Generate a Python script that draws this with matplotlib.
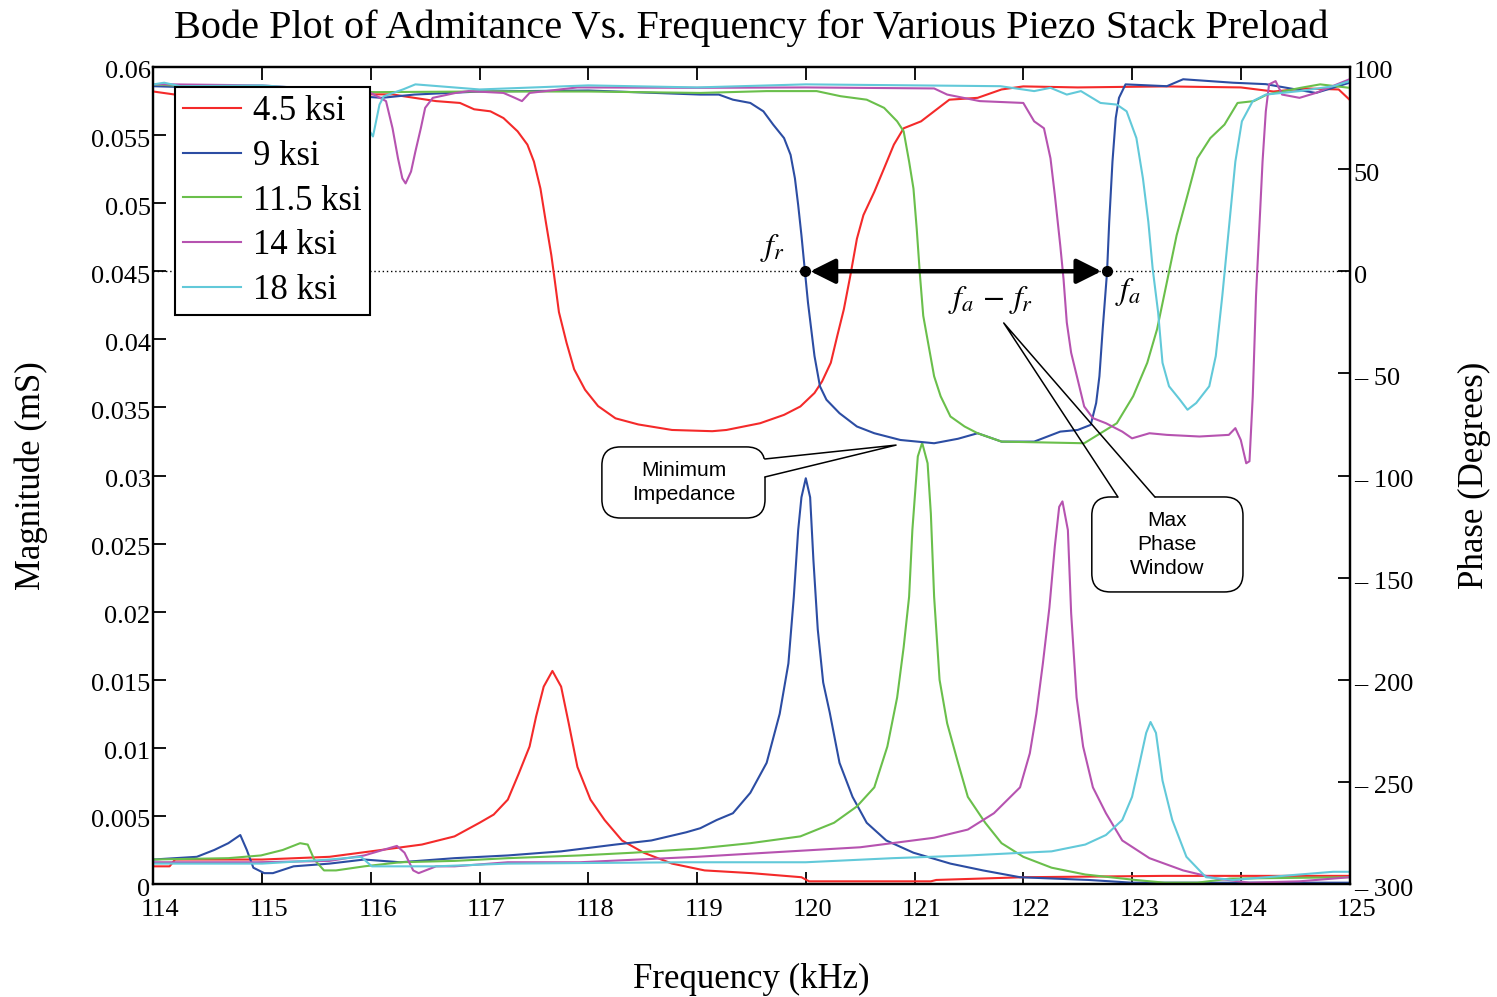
import numpy as np
import matplotlib
matplotlib.use('Agg')
import matplotlib.pyplot as plt
from matplotlib.patches import FancyBboxPatch, Rectangle
from matplotlib.transforms import ScaledTranslation

plt.rcParams['font.family'] = 'Liberation Serif'
plt.rcParams['mathtext.fontset'] = 'stix'

labels = ['4.5 ksi', '9 ksi', '11.5 ksi', '14 ksi', '18 ksi']
colors = ['#f42a2a', '#2c4da3', '#6abf4b', '#b653b0', '#62c9d9']

# ---- admittance magnitude (left axis) ----
mag_f_45 = [114.0, 114.15, 114.2, 115.0, 115.62, 116.0, 116.47, 116.77, 117.0, 117.13, 117.26,
            117.36, 117.46, 117.52, 117.59, 117.67, 117.75, 117.82, 117.9, 118.02, 118.15, 118.31,
            118.51, 118.77, 119.07, 119.5, 119.96, 120.03, 121.15, 121.2, 122.0, 123.3, 124.0, 125.0]
mag_45 = [0.0013, 0.0013, 0.0018, 0.0018, 0.0020, 0.0024, 0.0029, 0.0035, 0.0045, 0.0051, 0.0062,
          0.0081, 0.0101, 0.0123, 0.0145, 0.01565, 0.0145, 0.0118, 0.0086, 0.0062, 0.0047, 0.0032,
          0.0023, 0.0015, 0.0010, 0.0008, 0.0005, 0.0002, 0.0002, 0.0003, 0.0005, 0.0006, 0.0006, 0.0006]

mag_f_9 = [114.0, 114.4, 114.56, 114.69, 114.8, 114.86, 114.92, 115.02, 115.1, 115.29, 115.62,
           115.94, 116.27, 116.77, 117.26, 117.75, 118.25, 118.58, 118.9, 119.03, 119.18, 119.33,
           119.49, 119.64, 119.76, 119.84, 119.89, 119.93, 119.96, 120.0, 120.04, 120.07, 120.11,
           120.16, 120.22, 120.31, 120.43, 120.56, 120.74, 120.99, 121.33, 121.63, 121.97, 122.6,
           123.0, 125.0]
mag_9 = [0.0018, 0.0020, 0.0025, 0.0030, 0.0036, 0.0025, 0.0012, 0.0008, 0.0008, 0.0013, 0.0015,
         0.0018, 0.0016, 0.0019, 0.0021, 0.0024, 0.0029, 0.0032, 0.0038, 0.0041, 0.0047, 0.0052,
         0.0067, 0.0089, 0.0125, 0.0162, 0.0211, 0.0260, 0.0284, 0.0298, 0.0284, 0.0238, 0.0187,
         0.0148, 0.0126, 0.0089, 0.0064, 0.0045, 0.0032, 0.0023, 0.0015, 0.0010, 0.0005, 0.0003,
         0.0001, 0.0001]

mag_f_115 = [114.0, 114.69, 114.99, 115.19, 115.35, 115.42, 115.48, 115.57, 115.68, 115.94, 116.27,
             116.77, 117.26, 117.92, 118.41, 119.0, 119.49, 119.95, 120.26, 120.47, 120.63, 120.75,
             120.84, 120.9, 120.95, 120.98, 121.03, 121.07, 121.12, 121.15, 121.18, 121.23, 121.3,
             121.4, 121.49, 121.65, 121.8, 122.0, 122.26, 122.57, 123.03, 123.3, 123.6, 123.9, 125.0]
mag_115 = [0.0018, 0.0019, 0.0021, 0.0025, 0.0030, 0.0029, 0.0018, 0.0010, 0.0010, 0.0013, 0.0016,
           0.0017, 0.0019, 0.0021, 0.0023, 0.0026, 0.0030, 0.0035, 0.0045, 0.0057, 0.0071, 0.0101,
           0.0137, 0.0174, 0.0211, 0.0260, 0.0314, 0.0324, 0.0309, 0.0272, 0.0211, 0.0150, 0.0118,
           0.0089, 0.0064, 0.0045, 0.0030, 0.0020, 0.0012, 0.0007, 0.0003, 0.0001, 0.0001, 0.0004, 0.0005]

mag_f_14 = [114.0, 114.96, 115.62, 115.94, 116.11, 116.24, 116.31, 116.39, 116.44, 116.6, 116.77,
            117.26, 117.92, 119.0, 119.64, 120.5, 121.18, 121.49, 121.73, 121.97, 122.06, 122.12,
            122.18, 122.24, 122.29, 122.33, 122.36, 122.41, 122.44, 122.49, 122.55, 122.64, 122.76,
            122.91, 123.16, 123.47, 123.78, 124.08, 124.54, 125.0]
mag_14 = [0.0016, 0.0016, 0.0017, 0.0021, 0.0025, 0.0028, 0.0023, 0.0010, 0.0008, 0.0013, 0.0013,
          0.0016, 0.0016, 0.0020, 0.0023, 0.0027, 0.0034, 0.0040, 0.0052, 0.0071, 0.0096, 0.0125,
          0.0162, 0.0203, 0.0248, 0.0277, 0.0281, 0.0260, 0.0199, 0.0137, 0.0101, 0.0071, 0.0052,
          0.0032, 0.0019, 0.0010, 0.0004, 0.0001, 0.0002, 0.0005]

mag_f_18 = [114.0, 115.0, 115.62, 115.91, 116.01, 116.6, 117.26, 118.9, 120.0, 120.8, 121.5, 122.0,
            122.26, 122.57, 122.76, 122.91, 123.0, 123.07, 123.13, 123.17, 123.22, 123.28, 123.37,
            123.5, 123.68, 123.93, 124.54, 124.85, 125.0]
mag_18 = [0.0015, 0.0015, 0.0018, 0.0020, 0.0013, 0.0013, 0.0015, 0.0016, 0.0016, 0.0019, 0.0021, 0.0023,
          0.0024, 0.0029, 0.0036, 0.0047, 0.0064, 0.0089, 0.0111, 0.0119, 0.0111, 0.0076, 0.0047,
          0.0020, 0.0005, 0.0003, 0.0007, 0.0009, 0.0009]

# ---- phase in degrees (right axis) ----
ph_f_45 = [114.0, 114.2, 115.0, 116.0, 116.2, 116.3, 116.6, 116.82, 116.95, 117.1, 117.22, 117.35,
           117.44, 117.5, 117.56, 117.61, 117.66, 117.69, 117.73, 117.8, 117.87, 117.97, 118.09,
           118.25, 118.46, 118.77, 119.14, 119.27, 119.58, 119.8, 119.95, 120.08, 120.15, 120.23,
           120.29, 120.35, 120.41, 120.47, 120.53, 120.63, 120.72, 120.81, 120.9, 121.06, 121.18,
           121.32, 121.58, 121.8, 122.0, 122.5, 123.3, 124.0, 124.3, 124.6, 124.9, 125.0]
ph_45 = [88, 86.5, 86.5, 86.6, 86.6, 85.7, 83.3, 82.4, 79.3, 78.3, 75, 68.5,
         62, 53.7, 40.5, 24, 7.9, -3.8, -20, -35, -48, -58, -66,
         -72, -75, -77.7, -78.3, -77.7, -74.4, -70.3, -66.2, -59.6, -53.9, -44.8,
         -31.5, -18.6, -2, 15.9, 27.5, 38.9, 50.4, 62, 70, 73.4, 78.3,
         84, 84.9, 89, 90.5, 90, 90.5, 90, 88, 89.5, 89, 84]

ph_f_9 = [114.0, 115.0, 116.1, 116.4, 117.0, 118.0, 119.03, 119.2, 119.33, 119.49, 119.61, 119.7,
          119.8, 119.86, 119.9, 119.93, 119.96, 119.99, 120.02, 120.05, 120.08, 120.13, 120.19,
          120.31, 120.47, 120.63, 120.87, 121.18, 121.4, 121.58, 121.8, 122.1, 122.34, 122.5,
          122.62, 122.67, 122.7, 122.73, 122.77, 122.79, 122.82, 122.85, 122.88, 122.94, 123.32,
          123.47, 123.93, 124.23, 124.69, 125.0]
ph_9 = [90.6, 89, 84.9, 86.5, 88, 88.5, 86.5, 86.5, 84, 82.4, 78.3, 71.8,
        65.2, 57, 45.5, 32.4, 17.6, 1.1, -15.3, -28.4, -41.5, -56.3, -62.9,
        -69.5, -76, -79.3, -82.6, -84.2, -82, -79.3, -83.4, -83.4, -78.5, -77.7,
        -75.2, -64.5, -51.4, -28.4, -0.5, 24, 53.7, 75, 84.9, 91.5, 90.6,
        94, 92.3, 91.6, 87.3, 92.3]

ph_f_115 = [114.0, 115.0, 116.05, 117.0, 118.0, 119.03, 119.64, 120.1, 120.32, 120.56, 120.72, 120.84,
            120.9, 120.95, 120.99, 121.02, 121.05, 121.08, 121.13, 121.18, 121.24, 121.33, 121.46,
            121.58, 121.8, 122.56, 122.71, 122.86, 123.01, 123.14, 123.23, 123.32, 123.41, 123.51,
            123.6, 123.72, 123.85, 123.97, 124.12, 124.24, 124.55, 124.73, 125.0]
ph_115 = [91.5, 88.5, 87.7, 88, 88, 87.3, 88.2, 88.2, 85.7, 84, 80, 73.4,
          68.5, 53.7, 40.5, 20.8, -2.1, -21.8, -36.6, -51.4, -61.2, -71.1, -76,
          -79.3, -83.4, -84.2, -79.3, -74.4, -61.2, -44.8, -28.4, -5.4, 17.6, 37.3,
          55.3, 65.2, 71.8, 82.4, 83.3, 86.5, 89.8, 91.5, 89.8]

ph_f_14 = [114.0, 115.0, 116.0, 116.14, 116.2, 116.25, 116.29, 116.32, 116.37, 116.41, 116.46, 116.5,
           116.57, 116.78, 116.9, 117.22, 117.32, 117.39, 117.46, 117.9, 119.0, 120.0, 121.18, 121.3,
           121.6, 122.0, 122.1, 122.19, 122.25, 122.29, 122.34, 122.37, 122.4, 122.44, 122.5, 122.56,
           122.64, 122.76, 122.91, 123.0, 123.16, 123.32, 123.62, 123.89, 123.95, 124.0, 124.05,
           124.08, 124.11, 124.14, 124.17, 124.2, 124.23, 124.26, 124.32, 124.38, 124.54, 124.69, 125.0]
ph_14 = [91.6, 91, 87.3, 83.3, 70, 55.3, 45.5, 43, 48.8, 58.6, 70, 80,
         84.9, 87.3, 88.2, 87.3, 85, 83.3, 87.3, 90, 89.8, 90, 89.5, 86.5,
         83.3, 82.4, 73.4, 70, 55.3, 37.3, 12.6, -3.8, -25.1, -39.9, -53, -66.2,
         -71.9, -74.4, -78.5, -81.8, -79.3, -80.1, -80.9, -80.1, -76.8, -82.6, -94,
         -93, -61.2, -12, 20.8, 53.7, 78.3, 91.5, 93.1, 86.5, 84.9, 87.3, 94]

ph_f_18 = [114.0, 114.1, 114.25, 115.0, 115.85, 115.95, 116.02, 116.08, 116.12, 116.3, 116.41, 117.0,
           117.5, 118.0, 119.0, 120.0, 121.0, 121.79, 122.1, 122.25, 122.4, 122.53, 122.71, 122.86,
           122.95, 123.04, 123.1, 123.15, 123.19, 123.24, 123.28, 123.34, 123.44, 123.51, 123.59,
           123.71, 123.77, 123.83, 123.89, 123.95, 124.01, 124.11, 124.23, 124.54, 124.85, 125.0]
ph_18 = [91.5, 92.3, 90.6, 91, 88, 72, 66, 81.6, 85.7, 89.1, 91.5, 89,
         90, 91, 90, 91.5, 91, 90.6, 88.2, 89.8, 86.5, 88.2, 82.4, 81.6,
         78.3, 65.2, 45.5, 24.1, 1.1, -20.2, -44.8, -56.3, -62.9, -67.8, -64.5,
         -56.3, -41.5, -12, 20.8, 53.7, 73.4, 83.3, 86.5, 88.2, 90.6, 93.1]

mag_series = [(mag_f_45, mag_45), (mag_f_9, mag_9), (mag_f_115, mag_115),
              (mag_f_14, mag_14), (mag_f_18, mag_18)]
ph_series = [(ph_f_45, ph_45), (ph_f_9, ph_9), (ph_f_115, ph_115),
             (ph_f_14, ph_14), (ph_f_18, ph_18)]

# resonance / anti-resonance of the 9 ksi phase curve
f_r = 119.99
f_a = 122.77

fig = plt.figure(figsize=(14.97, 9.97), dpi=100)
ax1 = fig.add_axes([0.1024, 0.1133, 0.7991, 0.8195])
ax2 = ax1.twinx()

for (f, m), c in zip(mag_series, colors):
    ax1.plot(f, m, color=c, lw=1.5)

handles = []
for (f, p), c, lab in zip(ph_series, colors, labels):
    h, = ax2.plot(f, p, color=c, lw=1.5, label=lab)
    handles.append(h)

ax1.set_xlim(114, 125)
ax1.set_ylim(0, 0.06)
ax2.set_ylim(-300, 100)

ax1.set_xticks(np.arange(114, 126, 1))
mag_ticks = np.arange(0, 0.0601, 0.005)
ax1.set_yticks(mag_ticks)
ax1.set_yticklabels(['%g' % v for v in mag_ticks])
ph_ticks = np.arange(-300, 101, 50)
ax2.set_yticks(ph_ticks)
ax2.set_yticklabels([('\u2013 %d' % -v) if v < 0 else '%d' % v for v in ph_ticks])

ax1.tick_params(axis='x', direction='in', length=9, width=1.3, labelsize=19, top=True, pad=11)
ax1.tick_params(axis='y', direction='in', length=9, width=1.3, labelsize=19, pad=2)
ax2.tick_params(axis='y', direction='in', length=9, width=1.3, labelsize=19, pad=3)
for lab in ax1.get_xticklabels():
    lab.set_transform(lab.get_transform() + ScaledTranslation(0.07, 0, fig.dpi_scale_trans))
for lab in ax1.get_yticklabels() + ax2.get_yticklabels():
    lab.set_transform(lab.get_transform() + ScaledTranslation(0, -0.03, fig.dpi_scale_trans))
for ax in (ax1, ax2):
    for s in ax.spines.values():
        s.set_linewidth(1.6)

fig.suptitle('Bode Plot of Admitance Vs. Frequency for Various Piezo Stack Preload',
             fontsize=29, x=0.502, y=0.991, va='top')
ax1.set_xlabel('Frequency (kHz)', fontsize=25)
ax1.xaxis.set_label_coords(0.5, -0.097)
ax1.set_ylabel('Magnitude (mS)', fontsize=25)
ax1.yaxis.set_label_coords(-0.088, 0.5)
ax2.set_ylabel('Phase (Degrees)', fontsize=25)
ax2.yaxis.set_label_coords(1.091, 0.5)

# zero-phase reference and the fa - fr window
ax2.axhline(0, color='black', ls=(0, (1, 2)), lw=1.0, zorder=1)
ax2.annotate('', xy=(f_a, 0), xytext=(f_r, 0),
             arrowprops=dict(arrowstyle='<|-|>,head_length=0.6,head_width=0.3', lw=3.2,
                             color='black', shrinkA=4, shrinkB=4, mutation_scale=25), zorder=4)
ax2.plot([f_r, f_a], [0, 0], 'o', color='black', ms=7, zorder=5)
ax2.text(119.69, 11.4, '$f_r$', fontsize=23, ha='center', va='center')
ax2.text(122.96, -10.2, '$f_a$', fontsize=23, ha='center', va='center')
ax2.text(121.70, -14.1, r'$f_a\,-\,f_r$', fontsize=23, ha='center', va='center')


def callout(ax, x0, y0, x1, y1, text, base1, base2, tip, side):
    box = FancyBboxPatch((x0, y0), x1 - x0, y1 - y0, boxstyle='round,pad=0,rounding_size=0.17',
                         mutation_aspect=53.2, fc='white', ec='black', lw=1.1, zorder=6)
    ax.add_patch(box)
    # open the border where the pointer leaves the box
    if side == 'right':
        gap = Rectangle((x1 - 0.03, base2[1]), 0.06, base1[1] - base2[1], fc='white', ec='none', zorder=7)
    else:
        gap = Rectangle((base1[0], y1 - 1.5), base2[0] - base1[0], 3.0, fc='white', ec='none', zorder=7)
    ax.add_patch(gap)
    ax.plot([base1[0], tip[0], base2[0]], [base1[1], tip[1], base2[1]], color='black', lw=1.1, zorder=8)
    ax.text((x0 + x1) / 2, (y0 + y1) / 2, text, family='Liberation Sans', fontsize=15,
            linespacing=1.35, ha='center', va='center', zorder=9)


callout(ax2, 118.125, -120.8, 119.625, -86.0, 'Minimum\nImpedance',
        (119.625, -91.9), (119.625, -100.7), (120.83, -85.1), 'right')
callout(ax2, 122.63, -157.0, 124.02, -110.5, 'Max\nPhase\nWindow',
        (122.87, -110.5), (123.21, -110.5), (121.82, -25.3), 'top')

leg = ax2.legend(handles=handles, loc='upper left', bbox_to_anchor=(0.0181, 0.9755), fontsize=25,
                 frameon=True, fancybox=False, framealpha=1, edgecolor='black', borderaxespad=0,
                 handlelength=1.67, handletextpad=0.35, labelspacing=0.335, borderpad=0.24)
leg.get_frame().set_linewidth(1.5)
leg.set_zorder(10)

fig.savefig('out.png', dpi=100)
